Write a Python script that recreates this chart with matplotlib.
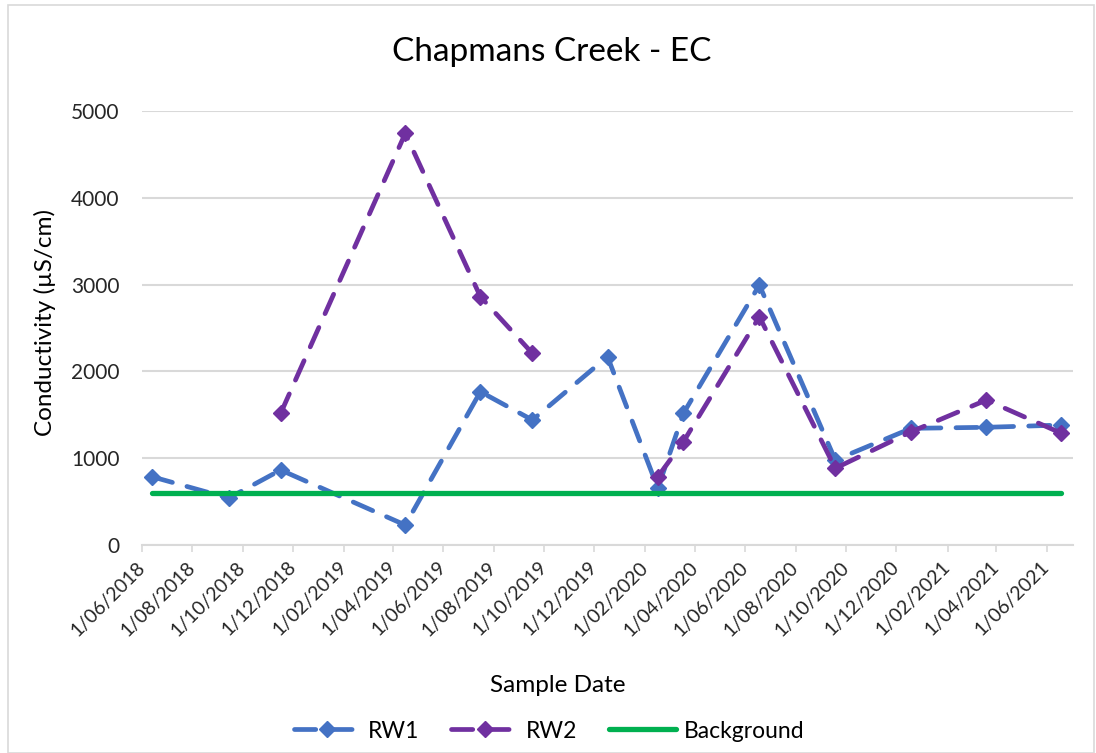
import numpy as np
import pandas as pd
import matplotlib
matplotlib.use("Agg")
import matplotlib.pyplot as plt
import matplotlib.transforms as mtransforms
from matplotlib.patches import Rectangle

plt.rcParams['font.family'] = ['Lato', 'DejaVu Sans']

# Sample dates and readings
sample_dates = pd.to_datetime([
    "2018-06-13", "2018-09-14", "2018-11-16", "2019-04-16", "2019-07-16",
    "2019-09-17", "2019-12-17", "2020-02-16", "2020-03-18", "2020-06-18",
    "2020-09-18", "2020-12-19", "2021-03-20", "2021-06-19",
])
rw1 = [787, 540, 864, 230, 1766, 1440, 2170, 653, 1517, 2995, 979, 1344, 1356, 1382]
rw2 = [np.nan, np.nan, 1517, 4743, 2861, 2208, np.nan, 787, 1190, 2630, 884, 1305, 1670, 1287]
background = [600] * len(sample_dates)

tick_dates = pd.date_range("2018-06-01", "2021-06-01", freq="2MS")
tick_labels = [f"1/{d.month:02d}/{d.year}" for d in tick_dates]

W, H = 1096, 753
fig = plt.figure(figsize=(W / 100, H / 100), dpi=100)
ax = fig.add_axes([142 / W, 1 - 545 / H, 931 / W, 434 / H])

# chart area border
fig.patches.append(Rectangle((8 / W, 0.0), 1086 / W, 1 - 5 / H, transform=fig.transFigure,
                             fill=False, edgecolor='#D9D9D9', linewidth=1.2))

ax.plot(sample_dates, rw1, color='#4472C4', linewidth=3.4, linestyle=(0, (4.5, 3.2)),
        dash_capstyle='round', marker='D', markersize=8, label='RW1')
ax.plot(sample_dates, rw2, color='#7030A0', linewidth=3.4, linestyle=(0, (4.5, 3.2)),
        dash_capstyle='round', marker='D', markersize=8, label='RW2')
ax.plot(sample_dates, background, color='#00B050', linewidth=3.8, solid_capstyle='round',
        label='Background')

ax.set_xlim(pd.Timestamp("2018-06-01"), pd.Timestamp("2021-07-03"))
ax.set_ylim(0, 5000)
ax.set_yticks([0, 1000, 2000, 3000, 4000, 5000])
ax.set_xticks(tick_dates)
ax.set_xticklabels(tick_labels, rotation=45, ha='right', rotation_mode='anchor', va='center')
shift = mtransforms.ScaledTranslation(5 / 100, 0, fig.dpi_scale_trans)
for lbl in ax.get_xticklabels():
    lbl.set_transform(lbl.get_transform() + shift)

ax.grid(axis='y', color='#D9D9D9', linewidth=1.5)
ax.set_axisbelow(True)
for s in ['top', 'right', 'left']:
    ax.spines[s].set_visible(False)
ax.spines['bottom'].set_color('#D9D9D9')
ax.spines['bottom'].set_linewidth(1.5)
ax.tick_params(axis='y', length=0, pad=16, labelsize=15, labelcolor='#262626')
ax.tick_params(axis='x', length=5, color='#D9D9D9', width=1.2, pad=9, labelsize=14, labelcolor='#262626')

fig.text(552 / W, 1 - 52 / H, 'Chapmans Creek - EC', fontsize=24, ha='center', va='center')
fig.text(45 / W, 1 - 322 / H, 'Conductivity (µS/cm)', fontsize=17.5, rotation=90,
         ha='center', va='center')
fig.text(558 / W, 1 - 685 / H, 'Sample Date', fontsize=17.5, ha='center', va='center')

fig.legend(loc='center', bbox_to_anchor=(549 / W, 1 - 731 / H), ncol=3, frameon=False,
           fontsize=16.5, handlelength=2.9, columnspacing=1.4, handletextpad=0.35)

plt.savefig('out.png', dpi=100)
